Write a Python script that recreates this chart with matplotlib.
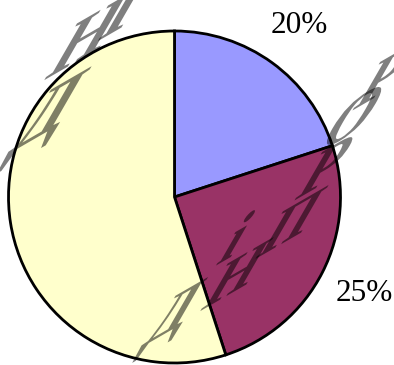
import matplotlib
matplotlib.use('Agg')
import matplotlib.pyplot as plt
import numpy as np
from matplotlib.textpath import TextPath
from matplotlib.patches import PathPatch
from matplotlib.font_manager import FontProperties
from matplotlib.transforms import Affine2D

# pie data
shares = [20, 25, 55]
labels = ['20%', '25%', '55%']
colors = ['#9999FF', '#993366', '#FFFFCC']

# watermark letters (glyph, centre x, centre y in image pixels, size)
wm_chars = ['Д', 'Н', 'І', 'Д', 'Н', 'і', 'П', 'Р', 'О', 'Р']
wm_x = [44, 88, 126, 170, 237, 238, 292, 326, 354, 384]
wm_y = [120, 36, 6, 320, 274, 236, 222, 166, 116, 76]
wm_s = [105, 100, 100, 84, 84, 84, 84, 86, 86, 86]

W, H = 394, 365
fig = plt.figure(figsize=(W / 100, H / 100), dpi=100)
fig.patch.set_facecolor('white')

r_px = 166
cx, cy = 174.5, H - 197
ax = fig.add_axes([(cx - r_px) / W, (cy - r_px) / H, 2 * r_px / W, 2 * r_px / H])
wedges, _ = ax.pie(shares, colors=colors, startangle=90, counterclock=False,
                   wedgeprops=dict(edgecolor='black', linewidth=2))
ax.set_xlim(-1, 1)
ax.set_ylim(-1, 1)

for w, lab in zip(wedges, labels):
    ang = np.deg2rad((w.theta1 + w.theta2) / 2)
    ax.text(1.28 * np.cos(ang), 1.28 * np.sin(ang), lab, ha='center', va='center',
            fontsize=22.5, family='Liberation Serif', color='black')

# skewed watermark, drawn glyph by glyph in pixel space
fp = FontProperties(family='Liberation Serif', weight='bold')
a, b = np.deg2rad(30), np.deg2rad(60)
for ch, x, y, s in zip(wm_chars, wm_x, wm_y, wm_s):
    M = np.array([[0.85 * s * np.cos(a), s * np.cos(b), 0],
                  [0.85 * s * np.sin(a), s * np.sin(b), 0],
                  [0, 0, 1]])
    tp = TextPath((0, 0), ch, size=1, prop=fp)
    ext = tp.get_extents()
    tr = (Affine2D().translate(-(ext.x0 + ext.x1) / 2, -(ext.y0 + ext.y1) / 2)
          + Affine2D(M) + Affine2D().translate(x, H - y))
    patch = PathPatch(tp, facecolor='black', edgecolor='none',
                      alpha=0.5, transform=tr, zorder=5)
    fig.add_artist(patch)

fig.savefig('out.png', dpi=100, facecolor='white')
